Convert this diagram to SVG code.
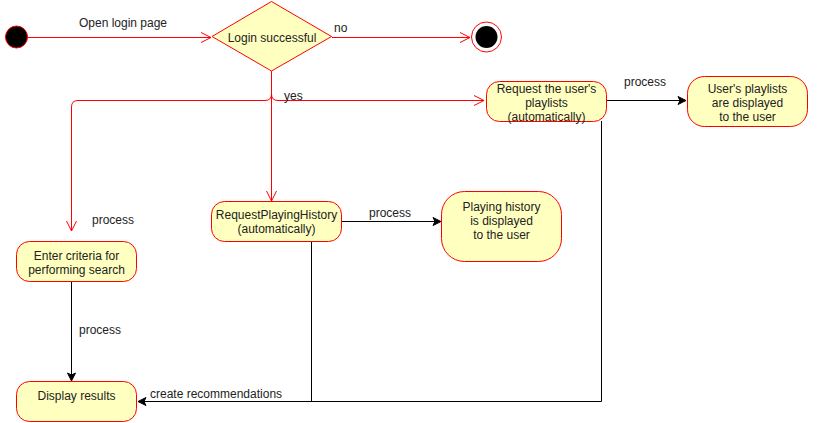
<svg xmlns="http://www.w3.org/2000/svg" width="832" height="423" viewBox="0 0 832 423">
<style>
.node{fill:#ffffc0;stroke:#ff0000;stroke-width:1}
.t{font-family:"Liberation Sans",Arial,sans-serif;font-size:12px;fill:#222}
.c{text-anchor:middle}
.red{fill:none;stroke:#ff0000;stroke-width:1}
.blk{fill:none;stroke:#000;stroke-width:1}
</style>
<defs>
<marker id="open" markerUnits="userSpaceOnUse" markerWidth="14" markerHeight="14" viewBox="-12 -7 14 14" refX="0" refY="0" orient="auto">
<path d="M-10,-5 L0,0 L-10,5" fill="none" stroke="#ff0000" stroke-width="1"/>
</marker>
<marker id="block" markerUnits="userSpaceOnUse" markerWidth="12" markerHeight="12" viewBox="-10 -6 12 12" refX="0" refY="0" orient="auto">
<path d="M0,0 L-8,-4 L-6,0 L-8,4 Z" fill="#000" stroke="#000" stroke-width="1"/>
</marker>
</defs>
<g id="connectors">
<path class="red" d="M28,37.5 H211" marker-end="url(#open)"/>
<path class="red" d="M332,37.5 H470" marker-end="url(#open)"/>
<path class="red" d="M271.5,71 V201" marker-end="url(#open)"/>
<path class="red" d="M271.5,94 Q271.5,100.5 265,100.5 H78 Q71.5,100.5 71.5,107 V231" marker-end="url(#open)"/>
<path class="red" d="M271.5,94 Q271.5,100.5 278,100.5 H484" marker-end="url(#open)"/>
<path class="blk" d="M606,100.5 H686" marker-end="url(#block)"/>
<path class="blk" d="M342,221.5 H441" marker-end="url(#block)"/>
<path class="blk" d="M71.5,282 V381" marker-end="url(#block)"/>
<path class="blk" d="M601.5,121 V401.5 H138" marker-end="url(#block)"/>
<path class="blk" d="M311.5,242 V401.5"/>
<text class="t c" x="123" y="27">Open login page</text>
<text class="t" x="334" y="32">no</text>
<text class="t" x="284" y="100">yes</text>
<text class="t c" x="645" y="86">process</text>
<text class="t c" x="390" y="217">process</text>
<text class="t c" x="113" y="224">process</text>
<text class="t c" x="100" y="334">process</text>
<text class="t" x="150" y="398">create recommendations</text>
</g>
<g id="start">
<circle cx="16.5" cy="37" r="11" fill="#000" stroke="#ff0000"/>
</g>
<g id="decision">
<path class="node" d="M212,36.5 L271.5,1.5 L331.5,36.5 L271.5,71 Z"/>
<text class="t c" x="272" y="42">Login successful</text>
</g>
<g id="end">
<circle cx="486.5" cy="37" r="15" fill="#fff" stroke="#ff0000"/>
<circle cx="486.5" cy="37" r="11" fill="#000"/>
</g>
<g id="request-playlists">
<rect class="node" x="486.5" y="81.5" width="120" height="40" rx="13"/>
<text class="t c" x="546.5" y="93">Request the user's</text>
<text class="t c" x="546.5" y="107">playlists</text>
<text class="t c" x="546.5" y="121">(automatically)</text>
</g>
<g id="playlists-displayed">
<rect class="node" x="687.5" y="76.5" width="120" height="50" rx="17"/>
<text class="t c" x="747.5" y="93">User's playlists</text>
<text class="t c" x="747.5" y="107">are displayed</text>
<text class="t c" x="747.5" y="121">to the user</text>
</g>
<g id="request-history">
<rect class="node" x="211.5" y="201.5" width="130" height="40" rx="13"/>
<text class="t c" x="276.5" y="219">RequestPlayingHistory</text>
<text class="t c" x="276.5" y="233">(automatically)</text>
</g>
<g id="history-displayed">
<rect class="node" x="441.5" y="191.5" width="120" height="70" rx="23"/>
<text class="t c" x="501.5" y="211">Playing history</text>
<text class="t c" x="501.5" y="225">is displayed</text>
<text class="t c" x="501.5" y="239">to the user</text>
</g>
<g id="enter-criteria">
<rect class="node" x="16.5" y="241.5" width="120" height="40" rx="13"/>
<text class="t c" x="76.5" y="260">Enter criteria for</text>
<text class="t c" x="76.5" y="274">performing search</text>
</g>
<g id="display-results">
<rect class="node" x="16.5" y="381.5" width="120" height="40" rx="13"/>
<text class="t c" x="76.5" y="400">Display results</text>
</g>
</svg>
